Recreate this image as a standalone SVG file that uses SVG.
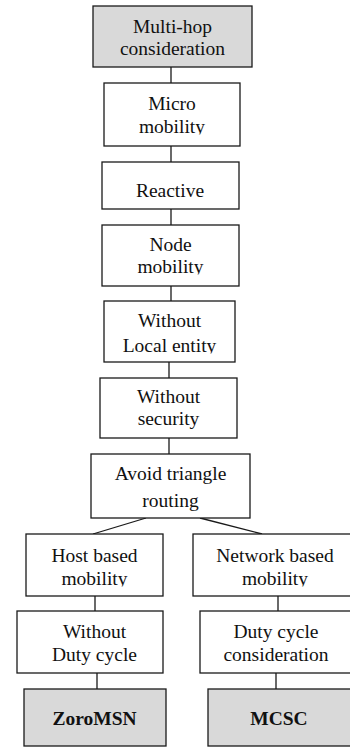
<svg xmlns="http://www.w3.org/2000/svg" width="350" height="747" viewBox="0 0 350 747">
<style>
.box{fill:#ffffff;stroke:#1a1a1a;stroke-width:1.3}
.gray{fill:#d9d9d9;stroke:#1a1a1a;stroke-width:1.3}
.t{font-family:"Liberation Serif","Times New Roman",serif;font-size:19.5px;fill:#111;text-anchor:middle}
.b{font-weight:bold}
.c{stroke:#1a1a1a;stroke-width:1.3;fill:none}
</style>
<defs>
<clipPath id="k2"><rect x="0" y="83" width="350" height="51.5"/></clipPath>
<clipPath id="k4"><rect x="0" y="225" width="350" height="49.5"/></clipPath>
<clipPath id="k5"><rect x="0" y="301" width="350" height="52.5"/></clipPath>
<clipPath id="k8"><rect x="0" y="534" width="350" height="52.5"/></clipPath>
</defs>
<rect width="350" height="747" fill="#ffffff"/>
<g id="connectors">
<line class="c" x1="171" y1="67" x2="171" y2="83"/>
<line class="c" x1="171" y1="146" x2="171" y2="162"/>
<line class="c" x1="171" y1="209" x2="171" y2="225"/>
<line class="c" x1="171" y1="286" x2="171" y2="301"/>
<line class="c" x1="169" y1="362" x2="169" y2="378"/>
<line class="c" x1="169" y1="438" x2="169" y2="454"/>
<line class="c" x1="146" y1="518" x2="93" y2="534"/>
<line class="c" x1="200" y1="518" x2="262" y2="534"/>
<line class="c" x1="95" y1="596" x2="95" y2="611"/>
<line class="c" x1="97" y1="673" x2="97" y2="689"/>
<line class="c" x1="278" y1="596" x2="278" y2="611"/>
<line class="c" x1="276" y1="673" x2="276" y2="689"/>
</g>
<g id="n1">
<rect class="gray" x="93" y="6" width="159" height="61"/>
<text class="t" x="172.5" y="33">Multi-hop</text>
<text class="t" x="172.5" y="55">consideration</text>
</g>
<g id="n2">
<rect class="box" x="104" y="83" width="136" height="63"/>
<text class="t" x="172" y="110">Micro</text>
<text class="t" x="172" y="133" clip-path="url(#k2)">mobility</text>
</g>
<g id="n3">
<rect class="box" x="102" y="162" width="137" height="47"/>
<text class="t" x="170" y="197">Reactive</text>
</g>
<g id="n4">
<rect class="box" x="102" y="225" width="137" height="61"/>
<text class="t" x="170.5" y="251">Node</text>
<text class="t" x="170.5" y="273" clip-path="url(#k4)">mobility</text>
</g>
<g id="n5">
<rect class="box" x="104" y="301" width="131" height="61"/>
<text class="t" x="169.5" y="327">Without</text>
<text class="t" x="169.5" y="352" clip-path="url(#k5)">Local entity</text>
</g>
<g id="n6">
<rect class="box" x="100" y="378" width="137" height="60"/>
<text class="t" x="168.5" y="403">Without</text>
<text class="t" x="168.5" y="425">security</text>
</g>
<g id="n7">
<rect class="box" x="91" y="454" width="159" height="64"/>
<text class="t" x="170.5" y="480">Avoid triangle</text>
<text class="t" x="170.5" y="507">routing</text>
</g>
<g id="n8">
<rect class="box" x="26" y="534" width="137" height="62"/>
<text class="t" x="94.5" y="562">Host based</text>
<text class="t" x="94.5" y="585" clip-path="url(#k8)">mobility</text>
</g>
<g id="n9">
<rect class="box" x="193" y="534" width="170" height="62"/>
<text class="t" x="275" y="562">Network based</text>
<text class="t" x="275" y="585" clip-path="url(#k8)">mobility</text>
</g>
<g id="n10">
<rect class="box" x="17" y="611" width="146" height="62"/>
<text class="t" x="94.5" y="638">Without</text>
<text class="t" x="94.5" y="661">Duty cycle</text>
</g>
<g id="n11">
<rect class="box" x="200" y="611" width="160" height="62"/>
<text class="t" x="276" y="638">Duty cycle</text>
<text class="t" x="276" y="661">consideration</text>
</g>
<g id="n12">
<rect class="gray" x="24" y="689" width="142" height="57"/>
<text class="t b" x="94.5" y="725">ZoroMSN</text>
</g>
<g id="n13">
<rect class="gray" x="208" y="689" width="150" height="57"/>
<text class="t b" x="279" y="725">MCSC</text>
</g>
</svg>
